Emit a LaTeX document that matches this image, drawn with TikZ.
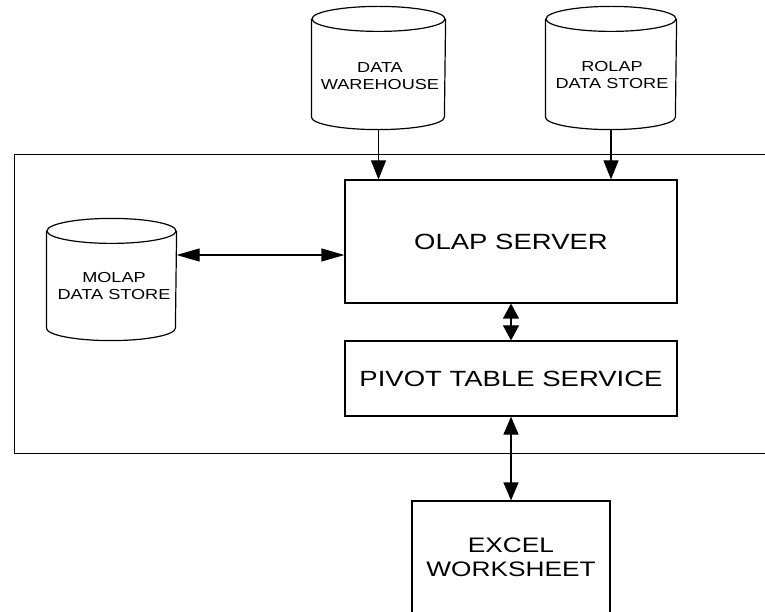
\documentclass[tikz,border=0pt]{standalone}
\usepackage{fontspec}
\setmainfont{Liberation Sans}[FakeStretch=1.25]
\usetikzlibrary{arrows.meta,calc}
\newcommand\cylout[3]{%
  \draw[fill=white] ($(#1.north west)+(0pt,-#3)$) -- ($(#1.south west)+(0pt,#3)$)
    arc[start angle=180,end angle=360,x radius=#2,y radius=#3]
    -- ($(#1.north east)+(0pt,-#3)$);
  \draw ($(#1.north)+(0pt,-#3)$) ellipse [x radius=#2, y radius=#3];}
\tikzset{
  box/.style={draw, line width=1.2pt, inner sep=0pt, fill=white},
  cylnode/.style={inner sep=0pt},
  smalltext/.style={align=center, font=\fontsize{14.5}{16.5}\selectfont},
  bigtext/.style={align=center, font=\fontsize{22}{24}\selectfont},
  vhead/.style={-{Triangle[length=19pt,width=15pt]}},
  hboth/.style={{Triangle[length=23pt,width=13pt]}-{Triangle[length=23pt,width=13pt]}},
  shortboth/.style={{Triangle[length=15pt,width=16pt]}-{Triangle[length=15pt,width=16pt]}},
  vboth/.style={{Triangle[length=18pt,width=15pt]}-{Triangle[length=18pt,width=15pt]}},
}
\begin{document}
\begin{tikzpicture}[x=1pt,y=1pt,line width=1.2pt]
\useasboundingbox (0,0) rectangle (765,611);
% outer frame (runs off the right edge)
\draw[line width=1pt] (14,456) rectangle (790,158);
% cylinders
\node[cylnode, minimum width=133pt, minimum height=122pt] (dw) at (378.5,543) {};
\cylout{dw}{66.5pt}{12.5pt}
\node[smalltext] (dwt) at ($(dw.center)+(1.5pt,-8pt)$) {DATA\\WAREHOUSE};
\node[cylnode, minimum width=130pt, minimum height=122pt] (rolap) at (611,543) {};
\cylout{rolap}{65pt}{12.5pt}
\node[smalltext] (rolapt) at ($(rolap.center)+(1pt,-7pt)$) {ROLAP\\DATA STORE};
\node[cylnode, minimum width=129pt, minimum height=121pt] (molap) at (111.5,331.5) {};
\cylout{molap}{64.5pt}{12.5pt}
\node[smalltext] (molapt) at ($(molap.center)+(2.5pt,-6.5pt)$) {MOLAP\\DATA STORE};
% boxes
\node[box, minimum width=332pt, minimum height=123pt, bigtext] (olap) at (511,369.5) {OLAP SERVER};
\node[box, minimum width=332pt, minimum height=75pt, bigtext] (pivot) at (511,232.5) {PIVOT TABLE SERVICE};
\node[box, minimum width=198pt, minimum height=112pt, align=center, font=\fontsize{21}{24}\selectfont] (excel) at (511,54) {EXCEL\\WORKSHEET};
% connectors
\draw[vhead] (dw.south) -- (dw.south |- olap.north);
\draw[vhead] (rolap.south) -- (rolap.south |- olap.north);
\draw[hboth] ([yshift=24.5pt]molap.east) -- ([yshift=24.5pt]molap.east -| olap.west);
\draw[shortboth] (olap.south) -- (pivot.north);
\draw[vboth] (pivot.south) -- (excel.north);
\end{tikzpicture}
\end{document}
